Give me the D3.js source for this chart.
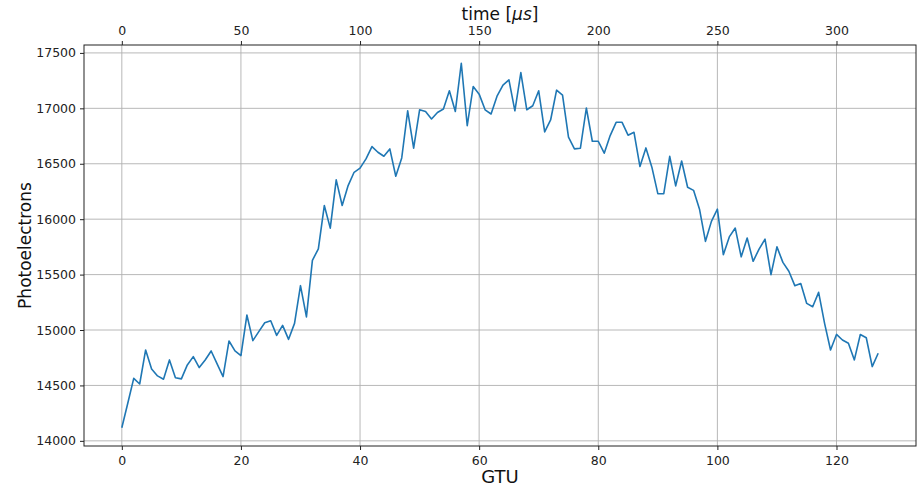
<!DOCTYPE html>
<html>
<head>
<meta charset="utf-8">
<script src="https://cdn.jsdelivr.net/npm/d3@7"></script>
<style>
  html, body { margin: 0; padding: 0; background: #fff; }
  svg { display: block; font-family: "DejaVu Sans", sans-serif; }
</style>
</head>
<body>
<svg id="chart" width="921" height="488"></svg>
<script>
// ---- Data ----
const gtu = d3.range(0, 128);
const photoelectrons = [
  14118, 14339, 14564, 14513, 14820, 14649, 14586, 14556, 14730, 14570,
  14559, 14685, 14760, 14661, 14730, 14811, 14694, 14580, 14901, 14811,
  14769, 15135, 14904, 14985, 15066, 15084, 14952, 15042, 14916, 15060,
  15400, 15118, 15628, 15733, 16123, 15919, 16355, 16123, 16303, 16423,
  16460, 16544, 16655, 16604, 16568, 16634, 16387, 16553, 16978, 16640,
  16987, 16972, 16904, 16963, 16994, 17158, 16972, 17407, 16843, 17197,
  17128, 16987, 16949, 17110, 17210, 17257, 16978, 17323, 16987, 17023,
  17158, 16787, 16895, 17164, 17120, 16740, 16634, 16640, 17003, 16703,
  16703, 16595, 16754, 16874, 16874, 16758, 16784, 16475, 16643, 16469,
  16230, 16230, 16567, 16300, 16525, 16288, 16260, 16090, 15800, 15980,
  16090, 15680, 15840, 15920, 15660, 15830, 15620, 15730, 15820, 15500,
  15750, 15610, 15530, 15400, 15420, 15240, 15210, 15340, 15060, 14820,
  14960, 14910, 14880, 14730, 14960, 14930, 14670, 14790
];
const xTicks = [0, 20, 40, 60, 80, 100, 120];
const timeTicks = [0, 50, 100, 150, 200, 250, 300];
const yTicks = [14000, 14500, 15000, 15500, 16000, 16500, 17000, 17500];
const usPerGtu = 2.5;

// ---- Layout ----
const W = 921, H = 488;
const m = { left: 84, right: 5, top: 45, bottom: 42 };
const pw = W - m.left - m.right, ph = H - m.top - m.bottom;

const svg = d3.select("#chart");
const g = svg.append("g").attr("transform", `translate(${m.left},${m.top})`);

// matplotlib-like 5% margins
const xMin = d3.min(gtu), xMax = d3.max(gtu);
const xPad = (xMax - xMin) * 0.05;
const x = d3.scaleLinear().domain([xMin - xPad, xMax + xPad]).range([0, pw]);
const xTop = d3.scaleLinear().domain(x.domain().map(v => v * usPerGtu)).range([0, pw]);
const yMin = d3.min(photoelectrons), yMax = d3.max(photoelectrons);
const yPad = (yMax - yMin) * 0.05;
const y = d3.scaleLinear().domain([yMin - yPad, yMax + yPad]).range([ph, 0]);

// grid
g.append("g").selectAll("line").data(xTicks).join("line")
  .attr("x1", d => x(d)).attr("x2", d => x(d))
  .attr("y1", 0).attr("y2", ph)
  .attr("stroke", "#b0b0b0").attr("stroke-width", 0.9);
g.append("g").selectAll("line").data(yTicks).join("line")
  .attr("x1", 0).attr("x2", pw)
  .attr("y1", d => y(d)).attr("y2", d => y(d))
  .attr("stroke", "#b0b0b0").attr("stroke-width", 0.9);

// line
const line = d3.line().x((d, i) => x(gtu[i])).y(d => y(d));
g.append("path").datum(photoelectrons)
  .attr("fill", "none").attr("stroke", "#1f77b4")
  .attr("stroke-width", 1.6).attr("stroke-linejoin", "round")
  .attr("d", line);

// frame
g.append("rect").attr("x", 0).attr("y", 0).attr("width", pw).attr("height", ph)
  .attr("fill", "none").attr("stroke", "#222").attr("stroke-width", 1);

function styleAxis(sel) {
  sel.select(".domain").remove();
  sel.selectAll(".tick line").attr("stroke", "#222");
  sel.selectAll(".tick text").attr("fill", "#222").style("font-size", "12.5px")
    .style("font-family", "'DejaVu Sans', sans-serif");
}

// axes
g.append("g").attr("transform", `translate(0,${ph})`)
  .call(d3.axisBottom(x).tickValues(xTicks).tickSize(4).tickPadding(6).tickFormat(d3.format("d")))
  .call(styleAxis);
g.append("g")
  .call(d3.axisTop(xTop).tickValues(timeTicks).tickSize(4).tickPadding(6).tickFormat(d3.format("d")))
  .call(styleAxis);
g.append("g")
  .call(d3.axisLeft(y).tickValues(yTicks).tickSize(4).tickPadding(4).tickFormat(d3.format("d")))
  .call(styleAxis);

// labels
svg.append("text").attr("x", m.left + pw / 2).attr("y", 483)
  .attr("text-anchor", "middle").attr("fill", "#111")
  .style("font-size", "18px").text("GTU");
svg.append("text")
  .attr("transform", `translate(31,${m.top + ph / 2}) rotate(-90)`)
  .attr("text-anchor", "middle").attr("fill", "#111")
  .style("font-size", "17px").text("Photoelectrons");
const t = svg.append("text").attr("x", m.left + pw / 2).attr("y", 20)
  .attr("text-anchor", "middle").attr("fill", "#111").style("font-size", "17px");
t.append("tspan").text("time [");
t.append("tspan").style("font-style", "italic").text("μs");
t.append("tspan").text("]");
</script>
</body>
</html>
